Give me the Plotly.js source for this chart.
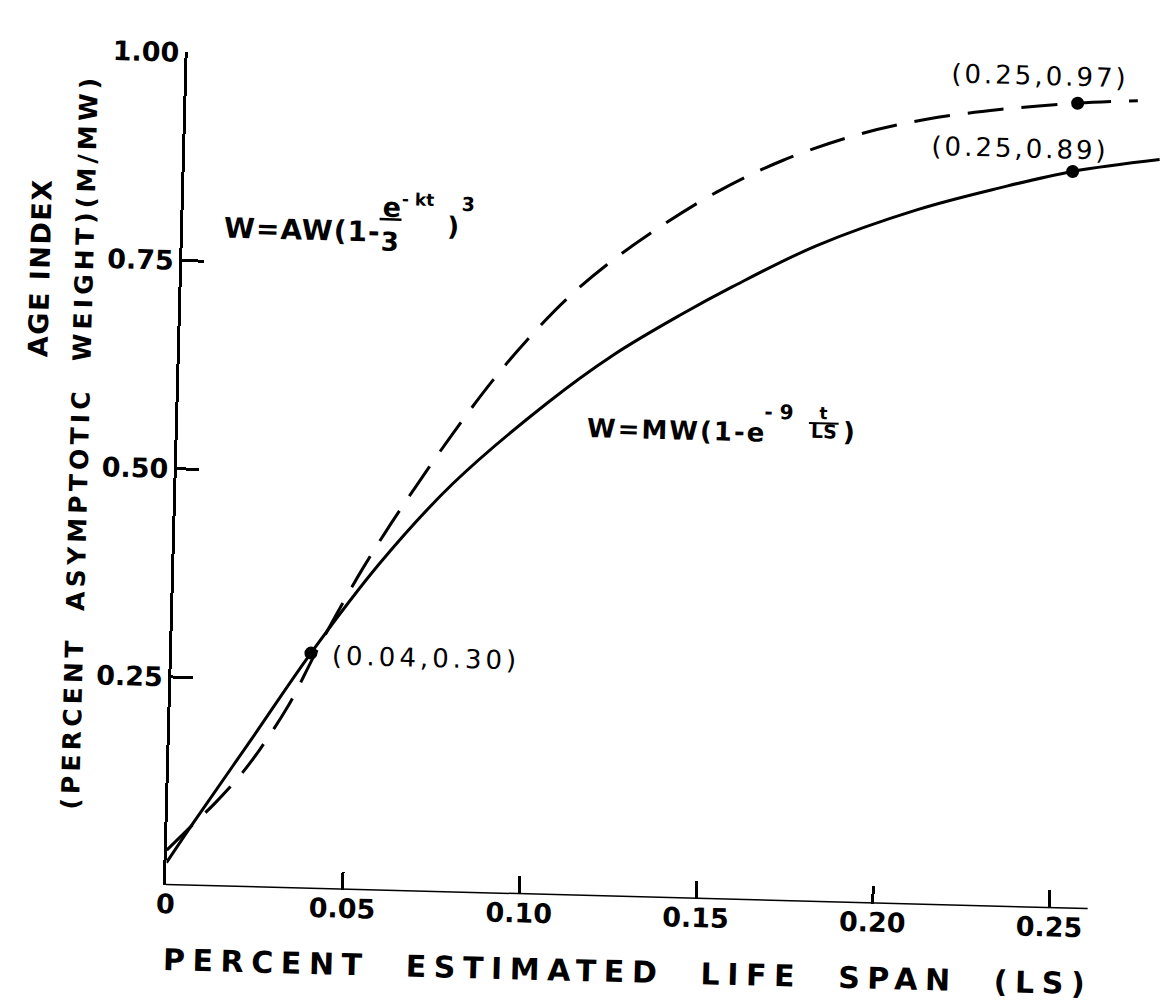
<!DOCTYPE html>
<html><head><meta charset="utf-8">
<script src="https://cdn.plot.ly/plotly-3.0.1.min.js"></script>
<style>
html,body{margin:0;padding:0;background:#fff;overflow:hidden}
#chart{width:1172px;height:1007px;transform:rotate(1.5deg);transform-origin:586px 503px;}
</style></head><body><div id="chart"></div>
<script>
// Solid curve: W = MW(1 - e^(-9 t/LS))
const solidX = [0, 0.0072, 0.023, 0.0393, 0.0581, 0.0782, 0.1041, 0.1225, 0.1411, 0.1558, 0.1793, 0.2073, 0.2306, 0.2511, 0.2756];
const solidY = [0.027, 0.075, 0.177, 0.283, 0.393, 0.491, 0.590, 0.650, 0.700, 0.736, 0.788, 0.834, 0.863, 0.885, 0.902];
// Dashed curve: W = AW(1 - e^(-kt)/3)^3
const dashX = [0, 0.0064, 0.0133, 0.0202, 0.0256, 0.0334, 0.040, 0.0452, 0.0533, 0.0607, 0.068, 0.0778, 0.0887, 0.098, 0.109, 0.120, 0.132, 0.1506, 0.169, 0.1898, 0.2094, 0.230, 0.252, 0.269];
const dashY = [0.042, 0.070, 0.100, 0.134, 0.166, 0.220, 0.278, 0.322, 0.386, 0.439, 0.488, 0.551, 0.616, 0.665, 0.716, 0.758, 0.797, 0.849, 0.889, 0.922, 0.943, 0.957, 0.967, 0.972];
// Marked points
const pointX = [0.0393, 0.2511, 0.252];
const pointY = [0.283, 0.885, 0.967];
const pointLabels = ['(0.04,0.30)', '(0.25,0.89)', '(0.25,0.97)'];
// Ticks
const xTickVals = [0, 0.05, 0.10, 0.15, 0.20, 0.25];
const xTickText = ['0', '0.05', '0.10', '0.15', '0.20', '0.25'];
const yTickVals = [0.25, 0.50, 0.75, 1.00];
const yTickText = ['0.25', '0.50', '0.75', '1.00'];
const xTitle = 'PERCENT  ESTIMATED  LIFE  SPAN  (LS)';
const yTitle1 = 'AGE INDEX';
const yTitle2 = '(PERCENT  ASYMPTOTIC  WEIGHT)(M/MW)';

const F = 'DejaVu Sans, sans-serif';
const sp = (t, px) => '<span style="letter-spacing:' + px + 'px">' + t + '</span>';

const traces = [
  {x: solidX, y: solidY, mode: 'lines', line: {color: '#000', width: 3, shape: 'spline', smoothing: 1}, hoverinfo: 'skip'},
  {x: dashX, y: dashY, mode: 'lines', line: {color: '#000', width: 3, dash: '36px,18px', shape: 'spline', smoothing: 1}, hoverinfo: 'skip'},
  {x: pointX, y: pointY, mode: 'markers', marker: {color: '#000', size: 13}, hoverinfo: 'skip'}
];

const lblPos = [[0.0447, 0.281], [0.2105, 0.9117], [0.2156, 0.999]];
const ann = [];
pointLabels.forEach((t, i) => ann.push({x: lblPos[i][0], y: lblPos[i][1], xref: 'x', yref: 'y', text: sp(t, i === 0 ? 4 : 3), showarrow: false, xanchor: 'left', yanchor: 'middle', font: {family: F, size: 26, color: '#000'}}));

function txt(x, y, t, size, xa) {
  return {x: x, y: y, xref: 'x', yref: 'y', text: t, showarrow: false, xanchor: xa || 'center', yanchor: 'middle', font: {family: F, size: size, color: '#000', weight: 'bold'}};
}
// Equation 1
ann.push(txt(0.011, 0.790, sp('W=AW(1-', 1), 28, 'left'));
ann.push(txt(0.0587, 0.8204, 'e', 27));
ann.push(txt(0.0611, 0.831, '- kt', 17, 'left'));
ann.push(txt(0.0586, 0.7797, '3', 26));
ann.push(txt(0.0765, 0.800, ')', 26));
ann.push(txt(0.0805, 0.8276, '3', 19));
// Equation 2
ann.push(txt(0.1151, 0.5614, sp('W=MW(1-e', 2), 26, 'left'));
ann.push(txt(0.1652, 0.5870, '- 9', 20, 'left'));
ann.push(txt(0.1824, 0.5865, 't', 17));
ann.push(txt(0.1826, 0.5650, 'LS', 19));
ann.push(txt(0.1898, 0.5649, ')', 26));
// Axis titles
ann.push({x: 0.4686, y: -0.09, xref: 'paper', yref: 'paper', text: sp(xTitle, 7.6), showarrow: false, xanchor: 'center', yanchor: 'middle', font: {family: F, size: 30, color: '#000', weight: 'bold'}});
ann.push({x: -0.1434, y: 0.7366, xref: 'paper', yref: 'paper', text: sp(yTitle1, 1.5), textangle: -90, showarrow: false, xanchor: 'center', yanchor: 'middle', font: {family: F, size: 27, color: '#000', weight: 'bold'}});
ann.push({x: -0.0985, y: 0.530, xref: 'paper', yref: 'paper', text: sp(yTitle2, 4.2), textangle: -90, showarrow: false, xanchor: 'center', yanchor: 'middle', font: {family: F, size: 25, color: '#000', weight: 'bold'}});

const layout = {
  width: 1172, height: 1007,
  margin: {l: 176, r: 6, t: 62.5, b: 111},
  paper_bgcolor: '#fff', plot_bgcolor: '#fff',
  showlegend: false,
  font: {family: F, color: '#000'},
  xaxis: {range: [0, 0.28], showline: false, zeroline: false, showgrid: false, ticks: 'inside', ticklen: 18, tickwidth: 3, tickcolor: '#000',
    tickvals: xTickVals, ticktext: xTickText, tickfont: {family: F, size: 27, color: '#000', weight: 'bold'}},
  yaxis: {range: [0, 1], showline: true, linewidth: 3, linecolor: '#000', zeroline: false, showgrid: false, ticks: 'inside', ticklen: 22, tickwidth: 3, tickcolor: '#000',
    tickvals: yTickVals, ticktext: yTickText, tickfont: {family: F, size: 27, color: '#000', weight: 'bold'}},
  shapes: [
    {type: 'line', xref: 'x', yref: 'y', x0: 0, x1: 0.2608, y0: 0, y1: 0, line: {color: '#000', width: 3}, layer: 'above'},
    {type: 'line', xref: 'x', yref: 'y', x0: 0.0555, x1: 0.0617, y0: 0.806, y1: 0.806, line: {color: '#000', width: 2.5}},
    {type: 'line', xref: 'x', yref: 'y', x0: 0.1784, x1: 0.1868, y0: 0.5748, y1: 0.5748, line: {color: '#000', width: 2}}
  ],
  annotations: ann
};
Plotly.newPlot('chart', traces, layout, {staticPlot: true, displayModeBar: false});
</script></body></html>
